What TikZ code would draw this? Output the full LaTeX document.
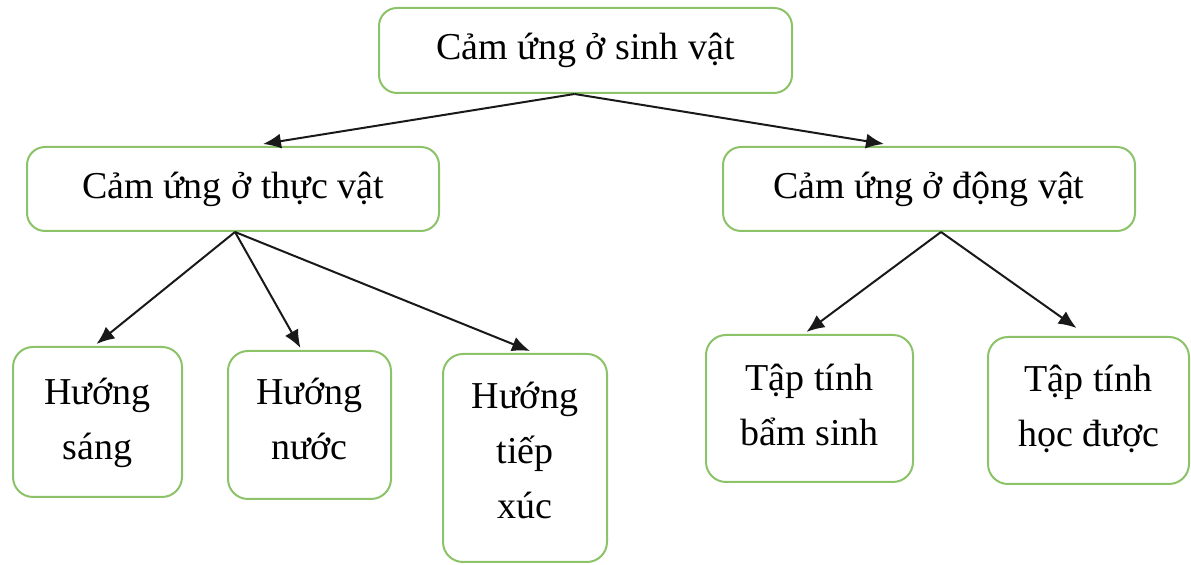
\documentclass[tikz,border=0pt]{standalone}
\usepackage{fontspec}
\setmainfont{Liberation Serif}
\usetikzlibrary{arrows.meta,calc}
\definecolor{boxgreen}{RGB}{140,195,105}
\tikzset{
  box/.style={draw=boxgreen, line width=1pt, rounded corners=9pt, fill=white,
    align=center, inner sep=0pt, font=\fontsize{19}{27.5}\selectfont},
  txt/.style={align=center, inner sep=0pt, font=\fontsize{19}{27.5}\selectfont},
  arr/.style={draw=black!90, line width=1pt, -{Latex[length=9pt,width=7.5pt]}}
}
\begin{document}
\begin{tikzpicture}[x=0.5pt,y=-0.5pt]
\useasboundingbox (0,0) rectangle (1191,565);
\node[box, minimum width=206.5pt, minimum height=42.5pt] (top) at (585.5,50.5) {Cảm ứng ở sinh vật};
\node[box, minimum width=206pt, minimum height=42pt] (pl) at (233,189) {Cảm ứng ở thực vật};
\node[box, minimum width=206pt, minimum height=42pt] (an) at (929,189) {Cảm ứng ở động vật};
\node[box, rounded corners=10pt, minimum width=84.5pt, minimum height=75pt] (hs) at (97.5,422) {};
\node[box, rounded corners=10pt, minimum width=81.5pt, minimum height=74pt] (hn) at (309.5,425) {};
\node[box, rounded corners=10pt, minimum width=82pt, minimum height=104pt] (ht) at (525,458) {};
\node[box, rounded corners=10pt, minimum width=103.5pt, minimum height=73.5pt] (bs) at (809.5,408.5) {};
\node[box, rounded corners=10pt, minimum width=100.5pt, minimum height=73.5pt] (hd) at (1088.5,410.5) {};
\node[txt] (hst) at ($(hs.center)+(0,1)$) {Hướng\\sáng};
\node[txt] (hnt) at ($(hn.center)+(0,-6)$) {Hướng\\nước};
\node[txt] (htt) at ($(ht.center)+(0,-8)$) {Hướng\\tiếp\\xúc};
\node[txt] (bst) at ($(bs.center)+(0,-4)$) {Tập tính\\bẩm sinh};
\node[txt] (hdt) at ($(hd.center)+(0,-2)$) {Tập tính\\học được};
\coordinate (s0) at ($(top.south)+(-11,0)$);
\coordinate (s1) at ($(pl.south)+(2,0)$);
\coordinate (s2) at ($(an.south)+(12,0)$);
\draw[arr] (s0) -- ($(pl.north)+(30,-2)$);
\draw[arr] (s0) -- ($(an.north)+(-45,-2)$);
\draw[arr] (s1) -- ($(hs.north)+(-1,-2)$);
\draw[arr] (s1) -- ($(hn.north)+(-9,-2)$);
\draw[arr] (s1) -- ($(ht.north)+(5,-2)$);
\draw[arr] (s2) -- ($(bs.north)+(-3,-2)$);
\draw[arr] (s2) -- ($(hd.north)+(-12,-8)$);
\end{tikzpicture}
\end{document}
